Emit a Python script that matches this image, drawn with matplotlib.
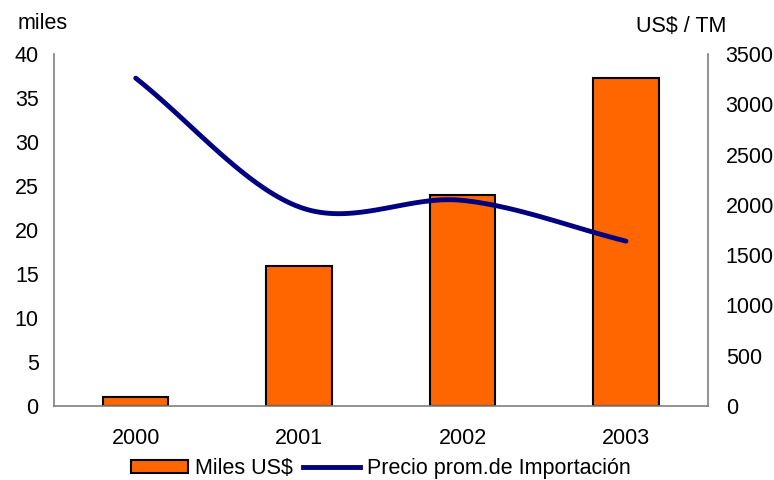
import numpy as np
import matplotlib
matplotlib.use("Agg")
import matplotlib.pyplot as plt
from matplotlib.lines import Line2D
from matplotlib.patches import Patch

plt.rcParams['font.family'] = ['Liberation Sans', 'DejaVu Sans']

# data
years = ['2000', '2001', '2002', '2003']
miles_usd = [1.0, 15.9, 24.0, 37.3]
precio = [3260, 1980, 2045, 1640]


# Catmull-Rom style smoothing, similar to the smoothed lines of spreadsheets
def smooth(x, y, n=40):
    x = np.asarray(x, float)
    y = np.asarray(y, float)
    px = np.concatenate([[2 * x[0] - x[1]], x, [2 * x[-1] - x[-2]]])
    py = np.concatenate([[2 * y[0] - y[1]], y, [2 * y[-1] - y[-2]]])
    xs, ys = [], []
    for i in range(1, len(px) - 2):
        t = np.linspace(0, 1, n)
        for p, out in ((px, xs), (py, ys)):
            p0, p1, p2, p3 = p[i - 1], p[i], p[i + 1], p[i + 2]
            out.extend(0.5 * ((2 * p1) + (-p0 + p2) * t
                              + (2 * p0 - 5 * p1 + 4 * p2 - p3) * t ** 2
                              + (-p0 + 3 * p1 - 3 * p2 + p3) * t ** 3))
    return np.array(xs), np.array(ys)


FS = 15.5

fig = plt.figure(figsize=(7.74, 4.8), dpi=100)
ax = fig.add_axes([0.0698, 0.154, 0.8445, 0.7335])
ax2 = ax.twinx()

x = np.arange(len(years))
ax.bar(x, miles_usd, width=0.4, color='#FF6600', edgecolor='black', linewidth=1.5, zorder=2)
ax.set_xlim(-0.5, 3.5)
ax.set_ylim(0, 40)
ax.set_yticks(range(0, 41, 5))
ax.set_xticks(x)
ax.set_xticklabels(years)

sx, sy = smooth(x, precio)
ax2.plot(sx, sy, color='#000080', linewidth=3.5, solid_capstyle='round', zorder=3)
ax2.set_ylim(0, 3500)
ax2.set_yticks(range(0, 3501, 500))

for a in (ax, ax2):
    for s in a.spines.values():
        s.set_visible(False)
    a.tick_params(length=0, labelsize=FS, colors='black')
ax.spines['left'].set_visible(True)
ax.spines['bottom'].set_visible(True)
ax2.spines['right'].set_visible(True)
for s in (ax.spines['left'], ax.spines['bottom'], ax2.spines['right']):
    s.set_color('#808080')
    s.set_linewidth(1.2)
ax.tick_params(axis='x', pad=16)
ax.tick_params(axis='y', pad=11)
ax2.tick_params(axis='y', pad=13)

fig.text(0.023, 0.952, 'miles', fontsize=FS, ha='left', va='center')
fig.text(0.822, 0.944, 'US$ / TM', fontsize=FS, ha='left', va='center')

handles = [Patch(facecolor='#FF6600', edgecolor='black', linewidth=1.5),
           Line2D([0], [0], color='#000080', linewidth=3.5)]
fig.legend(handles, ['Miles US$', 'Precio prom.de Importación'],
           loc='center', bbox_to_anchor=(0.492, 0.024), ncol=2, frameon=False,
           fontsize=FS, handlelength=2.65, handleheight=0.55, handletextpad=0.3,
           columnspacing=0.5, borderpad=0)

fig.savefig('out.png', dpi=100)
